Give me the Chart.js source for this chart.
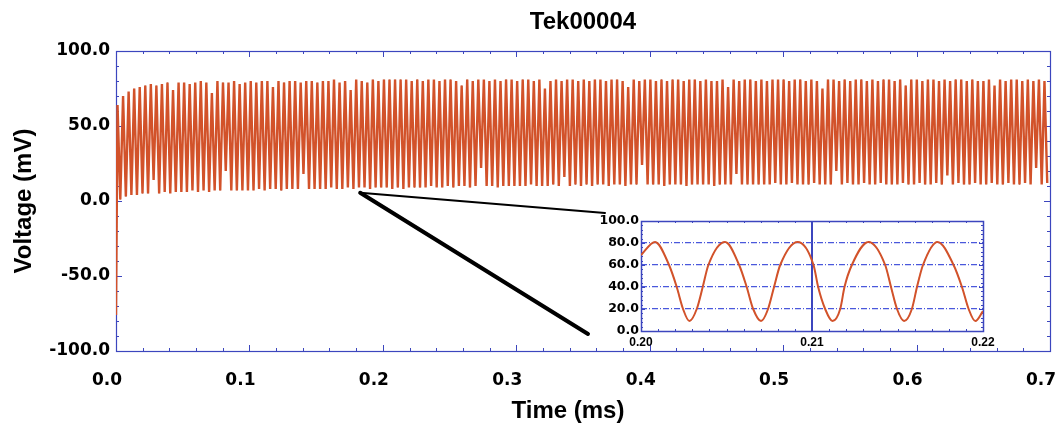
<!DOCTYPE html>
<html>
<head>
<meta charset="utf-8">
<title>Tek00004</title>
<script src="https://cdn.jsdelivr.net/npm/chart.js@4.4.1/dist/chart.umd.min.js"></script>
<style>
  html, body { margin: 0; padding: 0; background: #fff; }
  #wrap { position: relative; width: 1058px; height: 428px; overflow: hidden; }
  #main { position: absolute; left: 0; top: 0; }
  #inset { position: absolute; left: 590px; top: 205px; }
</style>
</head>
<body>
<div id="wrap">
  <canvas id="main" width="1058" height="428"></canvas>
  <canvas id="inset" width="420" height="150"></canvas>
</div>
<script>
// ---- Captured record: Tek00004 ----
const chartTitle = 'Tek00004';
const timeAxisTitle = 'Time (ms)';
const voltAxisTitle = 'Voltage (mV)';

const timeTicksMs = [0, 0.1, 0.2, 0.3, 0.4, 0.5, 0.6, 0.7];
const voltTicksMv = [-100, -50, 0, 50, 100];

// Full record: first sample, then one crest and one trough per cycle.
const traceStartMv = -76;
const firstCrestMs = 0.00114;
const cyclePeriodMs = 0.00416;

const crestMv = [
  64, 70, 73, 75, 76, 77, 78, 77, 78, 79, 74, 79,
  79, 78, 79, 80, 79, 72, 80, 79, 79, 80, 78, 79,
  80, 79, 80, 80, 76, 80, 79, 80, 80, 79, 80, 80,
  79, 80, 80, 81, 79, 80, 74, 81, 80, 79, 81, 80,
  81, 81, 81, 81, 81, 80, 81, 80, 81, 81, 80, 81,
  81, 80, 77, 81, 80, 81, 81, 80, 81, 80, 81, 81,
  80, 81, 81, 80, 81, 75, 80, 81, 80, 81, 81, 80,
  81, 80, 81, 81, 80, 81, 81, 80, 76, 81, 80, 81,
  81, 80, 81, 80, 81, 81, 80, 81, 81, 80, 81, 80,
  80, 81, 76, 81, 80, 81, 81, 80, 81, 80, 81, 81,
  81, 80, 81, 81, 80, 81, 80, 75, 81, 81, 80, 81,
  80, 81, 81, 80, 81, 80, 81, 81, 80, 81, 77, 81,
  81, 80, 81, 81, 80, 81, 80, 81, 81, 80, 81, 80,
  80, 81, 77, 81, 80, 81, 81, 80, 81, 80, 81, 80
];

const troughMv = [
  1, 3, 4, 4, 5, 5, 14, 5, 6, 5, 6, 6,
  6, 7, 6, 7, 6, 7, 7, 20, 7, 7, 7, 7,
  7, 8, 7, 8, 8, 7, 8, 8, 8, 18, 8, 8,
  8, 8, 9, 8, 8, 9, 8, 9, 9, 8, 9, 9,
  9, 8, 9, 8, 9, 9, 9, 9, 10, 9, 9, 10,
  9, 10, 10, 9, 10, 22, 10, 10, 9, 10, 10, 10,
  10, 10, 11, 10, 10, 10, 11, 10, 16, 10, 11, 10,
  11, 10, 11, 11, 10, 11, 11, 10, 11, 11, 24, 11,
  11, 11, 10, 11, 11, 11, 10, 11, 11, 11, 11, 10,
  11, 11, 11, 18, 11, 11, 11, 11, 11, 11, 12, 11,
  11, 12, 11, 11, 11, 12, 11, 11, 11, 20, 11, 12,
  11, 11, 12, 11, 11, 12, 11, 11, 11, 12, 11, 11,
  12, 11, 11, 12, 11, 17, 11, 12, 11, 11, 12, 11,
  11, 12, 11, 11, 12, 11, 11, 12, 11, 22, 11, 12
];

// Zoomed window 0.20 - 0.22 ms
const zoomTimeMs = [
  0.20000, 0.20082, 0.20164, 0.20209, 0.20246, 0.20283, 0.20326, 0.20361, 0.20394,
  0.20492, 0.20574, 0.20618, 0.20656, 0.20702, 0.20743, 0.20778, 0.20814,
  0.20916, 0.21009, 0.21036, 0.21077, 0.21120, 0.21165, 0.21190, 0.21233,
  0.21330, 0.21428, 0.21462, 0.21497, 0.21539, 0.21584, 0.21614, 0.21649,
  0.21734, 0.21828, 0.21877, 0.21916, 0.21955, 0.22000
];
const zoomMv = [
  69, 81, 60, 40, 20, 9, 20, 40, 60,
  81, 60, 40, 20, 9, 20, 40, 60,
  81, 60, 40, 20, 9, 20, 40, 60,
  81, 60, 40, 20, 9, 20, 40, 60,
  81, 60, 40, 20, 9, 18
];
const zoomTimeTicksMs = [0.20, 0.21, 0.22];
const zoomVoltTicksMv = [0, 20, 40, 60, 80, 100];
const zoomMarkerMs = 0.21;

// Where the zoom callout starts on the full record
const calloutAnchor = { ms: 0.183, mv: 5.5 };

// ---- Styling ----
const BLUE = '#3c46be';
const GRID_BLUE = '#4a58dc';
const TRACE = '#d2522a';
const TRACE_DOTS = 'rgba(110, 40, 20, 0.55)';
const SANS = '"Liberation Sans", Arial, Helvetica, sans-serif';
const WIDE = '"DejaVu Sans", Verdana, sans-serif';
const CLEAR = 'rgba(0,0,0,0)';

Chart.defaults.color = '#000';
Chart.defaults.font.family = SANS;

function stepValues(min, max, step) {
  const out = [];
  const n = Math.round((max - min) / step);
  for (let k = 0; k <= n; k++) out.push(min + k * step);
  return out;
}
const isMultiple = (v, step) => Math.abs(v / step - Math.round(v / step)) < 1e-6;

// Blue plot frame with inward tick marks on all four sides
const frameTicks = {
  id: 'frameTicks',
  beforeDatasetsDraw(chart, args, o) {
    const { ctx, chartArea: a, scales: { x, y } } = chart;
    ctx.save();
    ctx.strokeStyle = o.color;
    ctx.lineWidth = 1;
    ctx.beginPath();
    for (const v of stepValues(x.min, x.max, o.xMinor)) {
      const len = isMultiple(v, o.xMajor) ? o.majorLen : o.minorLen;
      const px = Math.round(x.getPixelForValue(v)) + 0.5;
      ctx.moveTo(px, a.bottom); ctx.lineTo(px, a.bottom - len);
      ctx.moveTo(px, a.top); ctx.lineTo(px, a.top + len);
    }
    for (const v of stepValues(y.min, y.max, o.yMinor)) {
      const len = isMultiple(v, o.yMajor) ? o.majorLen : o.minorLen;
      const py = Math.round(y.getPixelForValue(v)) + 0.5;
      ctx.moveTo(a.left, py); ctx.lineTo(a.left + len, py);
      ctx.moveTo(a.right, py); ctx.lineTo(a.right - len, py);
    }
    ctx.stroke();
    ctx.lineWidth = o.lineWidth;
    ctx.strokeRect(Math.round(a.left) + 0.5, Math.round(a.top) + 0.5,
                   Math.round(a.right - a.left), Math.round(a.bottom - a.top));
    ctx.restore();
  }
};

// ---- Zoomed view ----
const insetCanvas = document.getElementById('inset');
const zoomPoints = zoomTimeMs.map((t, i) => ({ x: t, y: zoomMv[i] }));
const insetChart = new Chart(insetCanvas, {
  type: 'line',
  data: {
    datasets: [{
      data: zoomPoints,
      borderColor: TRACE,
      borderWidth: 2,
      pointRadius: 0,
      cubicInterpolationMode: 'monotone',
      fill: false
    }, {
      data: zoomPoints,
      borderColor: TRACE_DOTS,
      borderWidth: 1,
      borderDash: [1, 3],
      pointRadius: 0,
      cubicInterpolationMode: 'monotone',
      fill: false
    }]
  },
  options: {
    responsive: false,
    animation: false,
    events: [],
    layout: { padding: { top: 16, right: 27, left: 0, bottom: 0 } },
    plugins: {
      legend: { display: false },
      tooltip: { enabled: false },
      frameTicks: { color: BLUE, lineWidth: 1.5, xMinor: 0.001, xMajor: 0.01, yMinor: 4, yMajor: 20, minorLen: 2, majorLen: 4 }
    },
    scales: {
      x: {
        type: 'linear',
        min: 0.20, max: 0.22,
        afterBuildTicks: s => { s.ticks = zoomTimeTicksMs.map(v => ({ value: v })); },
        afterFit: s => { s.height = 24; s.paddingLeft = 0; s.paddingRight = 0; },
        ticks: {
          autoSkip: false, maxRotation: 0, padding: 4,
          font: { family: SANS, weight: 'bold', size: 12 },
          callback: v => Number(v).toFixed(2)
        },
        grid: {
          drawTicks: false,
          lineWidth: 2,
          color: c => (c.tick && Math.abs(c.tick.value - zoomMarkerMs) < 1e-9) ? BLUE : CLEAR
        },
        border: { display: false }
      },
      y: {
        min: 0, max: 100,
        afterBuildTicks: s => { s.ticks = zoomVoltTicksMv.map(v => ({ value: v })); },
        afterFit: s => { s.width = 51; s.paddingTop = 0; s.paddingBottom = 0; },
        ticks: {
          autoSkip: false, padding: 2,
          font: { family: WIDE, weight: 'bold', size: 12.5 },
          callback: v => Number(v).toFixed(1)
        },
        grid: {
          drawTicks: false,
          lineWidth: 1.3,
          color: c => (c.tick && c.tick.value > 0 && c.tick.value < 100) ? GRID_BLUE : CLEAR
        },
        border: { display: false, dash: [6, 2, 1, 2] }
      }
    }
  },
  plugins: [frameTicks]
});

// ---- Full record ----
const tracePoints = [{ x: 0, y: traceStartMv }];
crestMv.forEach((v, i) => {
  const t = firstCrestMs + i * cyclePeriodMs;
  tracePoints.push({ x: t, y: v });
  if (i < troughMv.length) tracePoints.push({ x: t + cyclePeriodMs / 2, y: troughMv[i] });
});

// Chart title and time-axis caption
const captions = {
  id: 'captions',
  afterDraw(chart) {
    const { ctx, chartArea: a } = chart;
    const cx = (a.left + a.right) / 2;
    ctx.save();
    ctx.fillStyle = '#000';
    ctx.textAlign = 'center';
    ctx.textBaseline = 'middle';
    ctx.font = 'bold 24px ' + SANS;
    ctx.fillText(chartTitle, cx, 22);
    ctx.fillText(timeAxisTitle, cx - 15, 411);
    ctx.restore();
  }
};

// Two black leader lines from the record to the zoomed view
const callout = {
  id: 'callout',
  afterDatasetsDraw(chart) {
    const { ctx, scales: { x, y } } = chart;
    const ia = insetChart.chartArea;
    const ox = insetCanvas.offsetLeft, oy = insetCanvas.offsetTop;
    const ax = x.getPixelForValue(calloutAnchor.ms);
    const ay = y.getPixelForValue(calloutAnchor.mv);
    ctx.save();
    ctx.strokeStyle = '#000';
    ctx.lineCap = 'round';
    ctx.lineWidth = 2;
    ctx.beginPath();
    ctx.moveTo(ax, ay);
    ctx.lineTo(ox + ia.left - 36, oy + ia.top - 8);
    ctx.stroke();
    ctx.lineWidth = 4;
    ctx.beginPath();
    ctx.moveTo(ax, ay);
    ctx.lineTo(ox + ia.left - 53, oy + ia.bottom + 3);
    ctx.stroke();
    ctx.restore();
  }
};

new Chart(document.getElementById('main'), {
  type: 'line',
  data: {
    datasets: [{
      data: tracePoints,
      borderColor: TRACE,
      borderWidth: 2.4,
      pointRadius: 0,
      tension: 0,
      fill: false
    }, {
      data: tracePoints,
      borderColor: TRACE_DOTS,
      borderWidth: 1,
      borderDash: [1, 3],
      pointRadius: 0,
      tension: 0,
      fill: false
    }]
  },
  options: {
    responsive: false,
    animation: false,
    events: [],
    layout: { padding: { top: 51, right: 8, left: 0, bottom: 0 } },
    plugins: {
      legend: { display: false },
      tooltip: { enabled: false },
      frameTicks: { color: BLUE, lineWidth: 1.2, xMinor: 0.02, xMajor: 0.1, yMinor: 10, yMajor: 50, minorLen: 3, majorLen: 6 }
    },
    scales: {
      x: {
        type: 'linear',
        min: 0, max: 0.7,
        afterBuildTicks: s => { s.ticks = timeTicksMs.map(v => ({ value: v })); },
        afterFit: s => { s.height = 77; s.paddingLeft = 0; s.paddingRight = 0; },
        ticks: {
          autoSkip: false, maxRotation: 0, padding: 19, labelOffset: -9,
          font: { family: WIDE, weight: 'bold', size: 17 },
          callback: v => Number(v).toFixed(1)
        },
        grid: { display: false, drawTicks: false },
        border: { display: false }
      },
      y: {
        min: -100, max: 100,
        afterBuildTicks: s => { s.ticks = voltTicksMv.map(v => ({ value: v })); },
        afterFit: s => { s.width = 116; s.paddingTop = 0; s.paddingBottom = 0; },
        ticks: {
          autoSkip: false, padding: 6,
          font: { family: WIDE, weight: 'bold', size: 17 },
          callback: v => Number(v).toFixed(1)
        },
        grid: { display: false, drawTicks: false },
        border: { display: false },
        title: {
          display: true,
          text: voltAxisTitle,
          font: { family: SANS, weight: 'bold', size: 24 },
          padding: { top: 10, bottom: 0 }
        }
      }
    }
  },
  plugins: [frameTicks, captions, callout]
});
</script>
</body>
</html>
